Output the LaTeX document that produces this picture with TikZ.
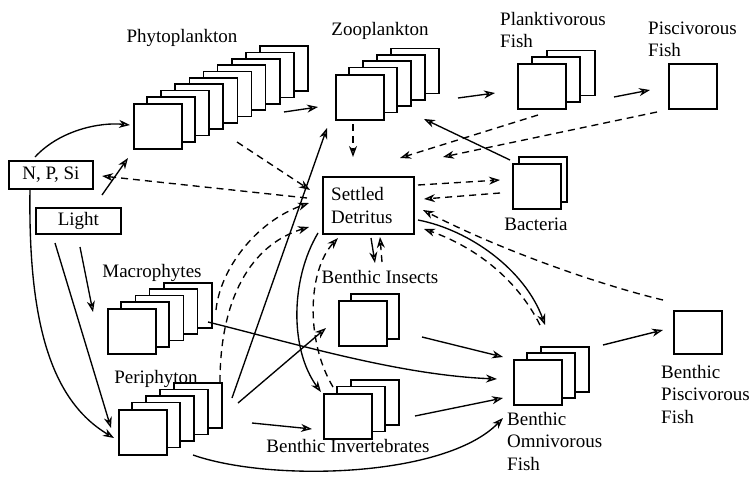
\documentclass[tikz,border=0pt]{standalone}
\usepackage{fontspec}
\setmainfont{Liberation Serif}
\usetikzlibrary{arrows.meta}
\tikzset{
  sbox/.style={line width=1.7pt, draw=black, fill=white},
  conn/.style={line width=1.35pt, -{Stealth[open,length=11pt,width=8pt,inset=3.5pt]}},
  dconn/.style={conn, dash pattern=on 7pt off 5pt},
  lbl/.style={font=\fontsize{19}{22.5}\selectfont, inner sep=0pt},
}
% A stack of boxes: name, front-box x, y, number of boxes behind, step right, step up
\newcommand\boxstack[6]{%
  \foreach \i in {#4,...,1}{\draw[sbox] ({#2+\i*#5},{#3-\i*#6}) rectangle ++(48,45);}
  \node[sbox, minimum width=48pt, minimum height=45pt, anchor=north west, inner sep=0pt] (#1) at (#2,#3) {};
}
\begin{document}
\begin{tikzpicture}[x=1pt,y=-1pt]
\useasboundingbox (0,0) rectangle (751,476);

% compartments
\boxstack{phyto}{133}{103}{9}{14.1}{6.3}
\boxstack{zoo}{335}{74}{4}{14}{6.4}
\boxstack{plank}{517}{63}{2}{15}{6.3}
\node[sbox, minimum width=48pt, minimum height=45pt, anchor=north west, inner sep=0pt] (pisc) at (668,63) {};
\boxstack{bact}{512}{163}{1}{7}{6}
\boxstack{insect}{338}{300}{1}{13}{6}
\boxstack{macro}{107}{308}{4}{14.2}{6.3}
\boxstack{peri}{118}{409}{4}{14}{6.5}
\boxstack{invert}{323}{393}{2}{14}{6.5}
\boxstack{omni}{513}{359}{2}{14}{6}
\node[sbox, minimum width=48pt, minimum height=43pt, anchor=north west, inner sep=0pt] (bpisc) at (673,310) {};

\node[sbox, lbl, minimum width=84pt, minimum height=28pt, anchor=north west] (nps) at (8,160) {N, P, Si};
\node[sbox, lbl, minimum width=85pt, minimum height=26pt, anchor=north west] (light) at (35,207) {Light};
\node[sbox, minimum width=91pt, minimum height=57pt, anchor=north west, inner sep=0pt] (det) at (322,176) {};

% labels (multi-line labels are placed by the baseline of their last line)
\node[lbl, anchor=base] (lphyto) at (182,43) {Phytoplankton};
\node[lbl, anchor=base] (lzoo) at (380,36) {Zooplankton};
\node[lbl, anchor=base west, align=left] (lplank) at (500,48) {Planktivorous\\Fish};
\node[lbl, anchor=base west, align=left] (lpisc) at (648,57) {Piscivorous\\Fish};
\node[lbl, anchor=base west, align=left] (ldet) at (331,223) {Settled\\Detritus};
\node[lbl, anchor=base] (lbact) at (536,230) {Bacteria};
\node[lbl, anchor=base] (linsect) at (380,283) {Benthic Insects};
\node[lbl, anchor=base] (lmacro) at (152,277) {Macrophytes};
\node[lbl, anchor=base] (lperi) at (156,383) {Periphyton};
\node[lbl, anchor=base] (linvert) at (348,452) {Benthic Invertebrates};
\node[lbl, anchor=base west, align=left] (lomni) at (507,470) {Benthic\\Omnivorous\\Fish};
\node[lbl, anchor=base west, align=left] (lbpisc) at (661,423) {Benthic\\Piscivorous\\Fish};

% solid flows
\draw[conn] (35,157) .. controls (60,130) and (100,122) .. (130,125);
\draw[conn] (102,195) -- (128,158);
\draw[conn] (284,112) -- (318,107);
\draw[conn] (458,98) -- (495,93);
\draw[conn] (614,97) -- (650,90);
\draw[conn] (510,160) -- (424,119);
\draw[conn] (232,398) -- (327,128);
\draw[conn] (238,403) -- (326,328);
\draw[conn] (252,423) -- (312,429);
\draw[conn] (208,322) .. controls (300,345) and (400,375) .. (497,379);
\draw[conn] (422,337) -- (503,357);
\draw[conn] (415,416) -- (503,398);
\draw[conn] (193,455) .. controls (270,482) and (445,478) .. (503,418);
\draw[conn] (603,345) -- (663,330);
\draw[conn] (418,220) .. controls (470,230) and (525,270) .. (545,325);
\draw[conn] (371,238) -- (375,263);
\draw[conn] (318,233) .. controls (290,280) and (290,350) .. (321,392);
\draw[conn] (30,189) .. controls (28,320) and (50,400) .. (114,438);
\draw[conn] (80,247) -- (93,312);
\draw[conn] (55,243) -- (111,428);

% dashed flows (detritus)
\draw[dconn] (307,198) -- (102,176);
\draw[dconn] (237,142) -- (310,190);
\draw[dconn] (353,124) -- (353,157);
\draw[dconn] (538,115) -- (400,158);
\draw[dconn] (657,112) -- (443,157);
\draw[dconn] (418,185) -- (500,180);
\draw[dconn] (500,193) -- (424,199);
\draw[dconn] (663,300) .. controls (600,285) and (500,250) .. (423,210);
\draw[dconn] (540,325) .. controls (515,275) and (470,245) .. (424,229);
\draw[dconn] (382,262) -- (380,237);
\draw[dconn] (333,387) .. controls (305,340) and (308,270) .. (338,238);
\draw[dconn] (216,310) .. controls (220,270) and (255,222) .. (309,203);
\draw[dconn] (220,382) .. controls (220,300) and (250,245) .. (309,227);
\end{tikzpicture}
\end{document}
